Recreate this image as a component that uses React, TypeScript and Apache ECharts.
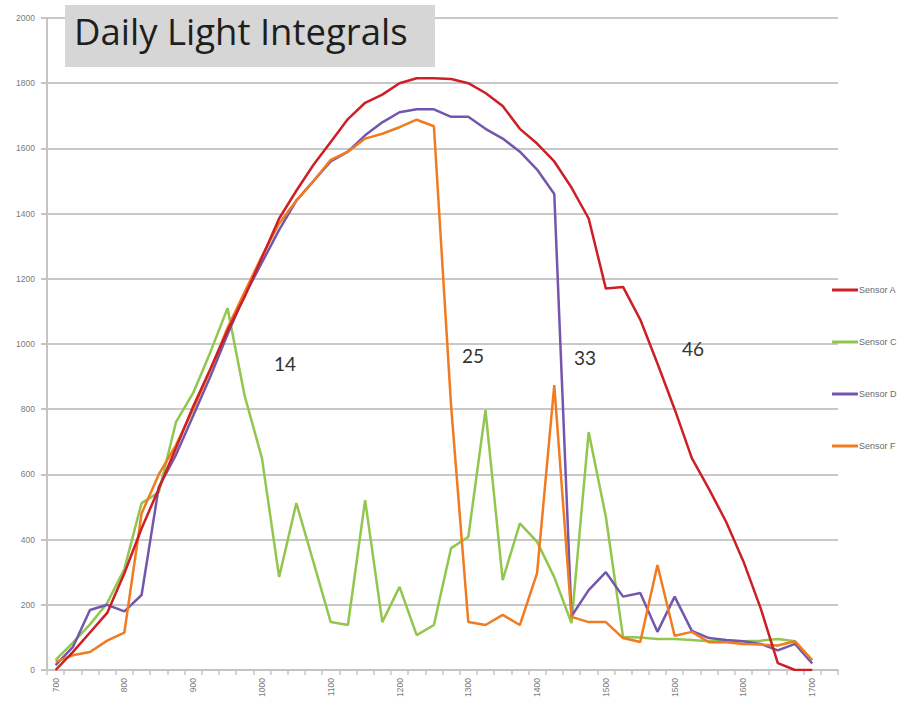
import React, { useEffect, useRef } from "react";
import * as echarts from "echarts";

// Tick labels shown every 4th category slot
const tickLabels = ["700", "800", "900", "1000", "1100", "1200", "1300", "1400", "1500", "1500", "1600", "1700"];
const slotsPerLabel = 4;
const slotCount = 46;
const categories = Array.from({ length: slotCount }, (_, i) => String(i));

const seriesNames = ["Sensor A", "Sensor C", "Sensor D", "Sensor F"];
const seriesColors = ["#cc1f26", "#92c64e", "#7357ad", "#f07b20"];

const sensorA = [0, 55, 115, 175, 297, 434, 556, 681, 808, 923, 1041, 1146, 1265, 1385, 1470, 1550, 1620, 1690, 1740, 1765, 1800, 1815, 1815, 1813, 1800, 1770, 1730, 1660, 1615, 1560, 1480, 1385, 1170, 1175, 1075, 940, 800, 650, 555, 454, 333, 190, 21, 0, 0];
const sensorC = [31, 83, 140, 205, 310, 512, 545, 760, 850, 975, 1110, 840, 650, 285, 512, 330, 147, 138, 521, 147, 255, 107, 138, 374, 408, 797, 276, 450, 393, 285, 144, 730, 470, 101, 100, 95, 95, 92, 88, 88, 88, 90, 95, 88, 30];
const sensorD = [15, 70, 184, 200, 180, 230, 561, 660, 780, 900, 1030, 1150, 1250, 1350, 1440, 1500, 1560, 1590, 1640, 1680, 1711, 1720, 1720, 1697, 1697, 1660, 1630, 1590, 1535, 1460, 165, 245, 300, 225, 236, 117, 225, 120, 98, 92, 88, 80, 60, 80, 20];
const sensorF = [25, 45, 55, 90, 115, 480, 600, 690, 800, 920, 1050, 1160, 1270, 1370, 1440, 1500, 1565, 1590, 1630, 1645, 1665, 1688, 1668, 810, 147, 138, 169, 138, 297, 874, 163, 147, 147, 98, 86, 322, 105, 117, 85, 85, 80, 78, 75, 88, 30];
const seriesValues = [sensorA, sensorC, sensorD, sensorF];

const titleText = "Daily Light Integrals";
const annotations = [
  { text: "14", x: 285, y: 363 },
  { text: "25", x: 473, y: 355 },
  { text: "33", x: 585, y: 357 },
  { text: "46", x: 693, y: 348 },
];

export default function App() {
  const ref = useRef<HTMLDivElement>(null);
  useEffect(() => {
    if (!ref.current) return;
    const chart = echarts.init(ref.current, undefined, { renderer: "svg" });
    chart.setOption({
      animation: false,
      backgroundColor: "#ffffff",
      grid: { left: 47, right: 65, top: 18, bottom: 34, containLabel: false },
      legend: {
        orient: "vertical",
        left: 827,
        top: 279,
        itemWidth: 26,
        itemHeight: 3,
        itemGap: 40,
        icon: "rect",
        data: seriesNames,
        textStyle: { fontSize: 9, color: "#6a6a6a", fontFamily: "Liberation Sans", lineHeight: 12, padding: [0, 0, 0, -4] },
      },
      xAxis: {
        type: "category",
        data: categories,
        boundaryGap: true,
        axisLine: { show: true, lineStyle: { color: "#c4c4c4", width: 2 } },
        axisTick: { show: true, interval: 0, length: 5, lineStyle: { color: "#c4c4c4", width: 1.5 } },
        axisLabel: {
          interval: slotsPerLabel - 1,
          rotate: 90,
          margin: 8,
          fontSize: 8.5,
          color: "#7a7a7a",
          fontFamily: "Liberation Sans",
          formatter: (_v: string, idx: number) => (idx % slotsPerLabel === 0 ? tickLabels[idx / slotsPerLabel] ?? "" : ""),
        },
        splitLine: { show: false },
      },
      yAxis: {
        type: "value",
        min: 0,
        max: 2000,
        interval: 200,
        axisLine: { show: true, lineStyle: { color: "#c4c4c4", width: 2 } },
        axisTick: { show: true, length: 6, lineStyle: { color: "#c4c4c4", width: 2 } },
        axisLabel: {
          fontSize: 8.5,
          color: "#7a7a7a",
          margin: 12,
          fontFamily: "Liberation Sans",
          formatter: (v: number) => String(v),
        },
        splitLine: { show: true, lineStyle: { color: "#c8c8c8", width: 2 } },
      },
      series: seriesNames.map((name, k) => ({
        name,
        type: "line",
        data: seriesValues[k],
        showSymbol: false,
        symbol: "none",
        color: seriesColors[k],
        lineStyle: { width: 2.5, color: seriesColors[k] },
        z: k === 0 ? 5 : 3,
      })),
      graphic: [
        { type: "rect", left: 65, top: 5, shape: { width: 370, height: 62 }, style: { fill: "#d6d6d6" }, z: 10 },
        {
          type: "text",
          left: 74,
          top: 12,
          style: { text: titleText, fontSize: 36.5, fontFamily: "Open Sans", fill: "#1e1e1e" },
          z: 11,
        },
        ...annotations.map((a) => ({
          type: "text",
          x: a.x,
          y: a.y,
          style: { text: a.text, fontSize: 19, fontFamily: "Lato", fill: "#333333", align: "center", verticalAlign: "middle" },
          z: 11,
        })),
      ],
    });
    return () => chart.dispose();
  }, []);
  return <div ref={ref} style={{ width: 903, height: 704, position: "absolute", left: 0, top: 0 }} />;
}
